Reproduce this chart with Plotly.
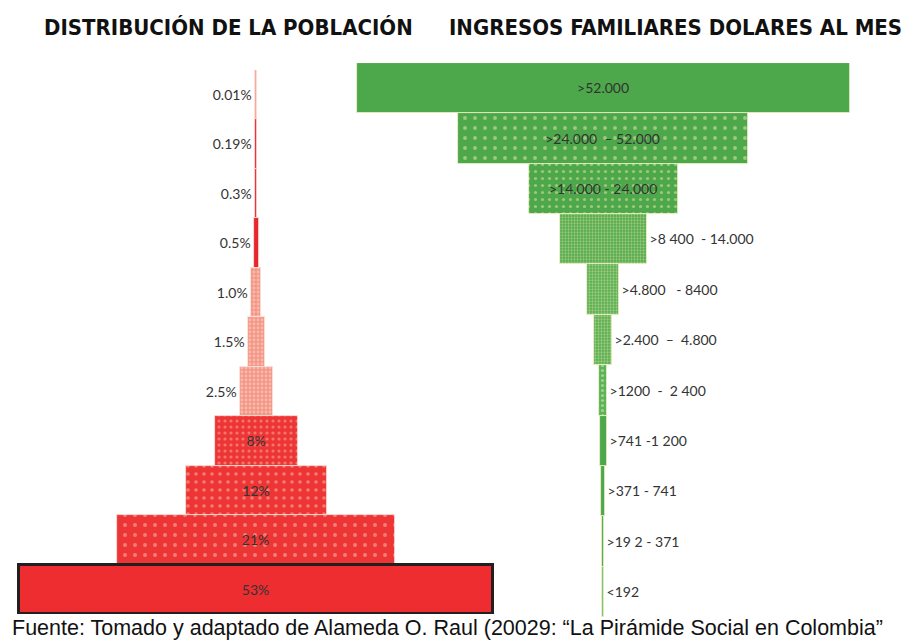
import plotly.graph_objects as go

# ---------------- data ----------------
poblacion_labels = ["0.01%", "0.19%", "0.3%", "0.5%", "1.0%", "1.5%", "2.5%", "8%", "12%", "21%", "53%"]
poblacion_ancho = [1.5, 2.5, 2.5, 5, 10, 17, 33, 83, 141, 278, 474]  # visual bar length

ingresos_labels = [">52.000", ">24.000  \u2013 52.000", ">14.000 - 24.000", ">8 400  - 14.000",
                   ">4.800   - 8400", ">2.400  \u2013  4.800", ">1200  -  2 400", ">741 -1 200",
                   ">371 - 741", ">19 2 - 371", "<192"]
ingresos_ancho = [493, 290, 149, 87, 32, 18, 8, 7, 4, 2, 2]

titulo_izq = "DISTRIBUCIÓN DE LA POBLACIÓN"
titulo_der = "INGRESOS FAMILIARES DOLARES AL MES"
fuente = "Fuente: Tomado y adaptado de Alameda O. Raul (20029: \u201cLa Pirámide Social en Colombia\u201d"

# ---------------- styles ----------------
CENTRO_IZQ = 256
CENTRO_DER = 603
LABEL_FONT = dict(family="Lato, Open Sans, sans-serif", size=14, color="#333333")
TITLE_FONT = dict(family="Liberation Sans Narrow, Arial Narrow, DejaVu Sans Condensed, sans-serif",
                  size=22, color="#111111", weight="bold")

izq_bg = ["#f6a592", "#e8272c", "#e8272c", "#e8272c", "#f39584", "#f39584", "#f39584",
          "#ee3535", "#ee3535", "#ee3535", "#ed2d30"]
izq_dots = ["", "", "", "", "#fde0d8", "#fde0d8", "#fde0d8", "#f9b8a8", "#fac0b2", "#fac8ba", ""]
izq_shape = ["", "", "", "", ".", ".", ".", ".", ".", ".", ""]
izq_size = [4, 4, 4, 4, 4, 4, 4, 6, 8, 10, 4]
izq_sol = [0.3, 0.3, 0.3, 0.3, 0.4, 0.4, 0.4, 0.22, 0.16, 0.12, 0.3]
izq_line_c = ["#fbe3dc"] * 10 + ["#231f20"]
izq_line_w = [0.8] * 10 + [3]
izq_pos = ["outside"] * 7 + ["inside"] * 4

der_bg = ["#4ca84a", "#4ca84a", "#4ca84a", "#4faa4c", "#55ae52", "#55ae52", "#5ab458",
          "#4ca84a", "#4ca84a", "#4ca84a", "#72c070"]
der_dots = ["", "#f3e9b0", "#efe5a8", "#e9e4a8", "#e9e4a8", "#e9e4a8", "#eeeac0", "", "", "", ""]
der_shape = ["", ".", ".", ".", ".", ".", ".", "", "", "", ""]
der_size = [4, 10, 7, 3, 3, 3, 5, 4, 4, 4, 4]
der_sol = [0.3, 0.12, 0.16, 0.45, 0.45, 0.45, 0.3, 0.3, 0.3, 0.3, 0.3]
der_line_c = ["#f4f0cc"] * 11
der_line_w = [0.8] * 11
der_pos = ["inside"] * 3 + ["outside"] * 8

fig = go.Figure()


def add_pyramid(labels, ancho, signo, centro, bg, dots, shape, size, sol, line_c, line_w, pos, xa, ya):
    # one trace per row so that each bar keeps its own scalar colour and dot pattern
    for i, lab in enumerate(labels):
        w = ancho[i]
        pattern = dict(shape=shape[i], size=size[i], solidity=sol[i], fillmode="overlay")
        if dots[i]:
            pattern["fgcolor"] = dots[i]
        fig.add_trace(go.Bar(
            y=[lab], x=[signo * w], base=[centro - signo * w / 2], orientation="h",
            text=[lab], textposition=pos[i], insidetextanchor="middle",
            textfont=LABEL_FONT, insidetextfont=LABEL_FONT, outsidetextfont=LABEL_FONT,
            constraintext="none", cliponaxis=False,
            marker=dict(color=bg[i], line=dict(color=line_c[i], width=line_w[i]), pattern=pattern),
            xaxis=xa, yaxis=ya, hoverinfo="skip", showlegend=False,
        ))


add_pyramid(poblacion_labels, poblacion_ancho, -1, CENTRO_IZQ, izq_bg, izq_dots, izq_shape, izq_size,
            izq_sol, izq_line_c, izq_line_w, izq_pos, "x", "y")
add_pyramid(ingresos_labels, ingresos_ancho, 1, CENTRO_DER, der_bg, der_dots, der_shape, der_size,
            der_sol, der_line_c, der_line_w, der_pos, "x2", "y2")

H = 643
fig.update_layout(
    width=912, height=643,
    margin=dict(l=0, r=0, t=0, b=0),
    paper_bgcolor="white", plot_bgcolor="rgba(0,0,0,0)",
    barmode="overlay", bargap=0,
    xaxis=dict(domain=[0, 1], range=[0, 912], visible=False, fixedrange=True, anchor="y"),
    xaxis2=dict(domain=[0, 1], range=[0, 912], visible=False, fixedrange=True, anchor="y2"),
    yaxis=dict(domain=[1 - 614 / H, 1 - 70 / H], autorange="reversed", visible=False,
               type="category", categoryorder="array", categoryarray=poblacion_labels, anchor="x"),
    yaxis2=dict(domain=[1 - 617 / H, 1 - 63 / H], autorange="reversed", visible=False,
                type="category", categoryorder="array", categoryarray=ingresos_labels, anchor="x2"),
    annotations=[
        dict(text=titulo_izq, x=228 / 912, y=1 - 28 / H, xref="paper", yref="paper",
             showarrow=False, xanchor="center", yanchor="middle", font=TITLE_FONT),
        dict(text=titulo_der, x=675 / 912, y=1 - 28 / H, xref="paper", yref="paper",
             showarrow=False, xanchor="center", yanchor="middle", font=TITLE_FONT),
        dict(text=fuente, x=10 / 912, y=1 - 628 / H, xref="paper", yref="paper",
             showarrow=False, xanchor="left", yanchor="middle",
             font=dict(family="Liberation Sans, Arial, sans-serif", size=21.5, color="#111111")),
    ],
)

fig.write_html("out.html", config={"displayModeBar": False},
               post_script="document.body.style.margin='0';")
